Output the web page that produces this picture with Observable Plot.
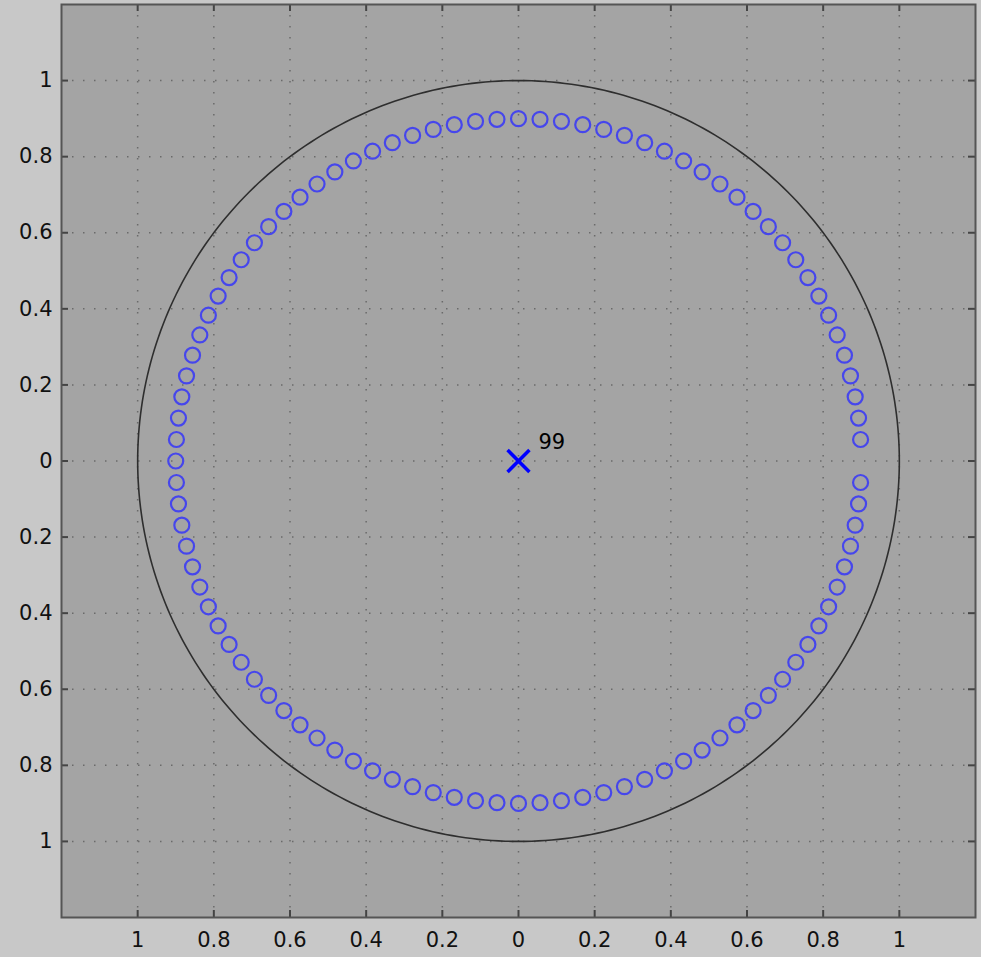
<!DOCTYPE html>
<html>
<head>
<meta charset="utf-8">
<script src="https://cdn.jsdelivr.net/npm/d3@7"></script>
<script src="https://cdn.jsdelivr.net/npm/@observablehq/plot@0.6"></script>
<style>
  html, body { margin: 0; padding: 0; background: #c8c8c8; }
  #chart svg { display: block; background: transparent; }
</style>
</head>
<body>
<div id="chart"></div>
<script>
// Zeros (circles): radius and angles in degrees
const zeroRadius = 0.9;
const zeroAngles = [3.6,7.2,10.8,14.4,18,21.6,25.2,28.8,32.4,36,39.6,43.2,46.8,50.4,54,57.6,61.2,64.8,68.4,72,75.6,79.2,82.8,86.4,90,93.6,97.2,100.8,104.4,108,111.6,115.2,118.8,122.4,126,129.6,133.2,136.8,140.4,144,147.6,151.2,154.8,158.4,162,165.6,169.2,172.8,176.4,180,183.6,187.2,190.8,194.4,198,201.6,205.2,208.8,212.4,216,219.6,223.2,226.8,230.4,234,237.6,241.2,244.8,248.4,252,255.6,259.2,262.8,266.4,270,273.6,277.2,280.8,284.4,288,291.6,295.2,298.8,302.4,306,309.6,313.2,316.8,320.4,324,327.6,331.2,334.8,338.4,342,345.6,349.2,352.8,356.4];
// Pole (cross) and its multiplicity label
const poles = [{re: 0, im: 0, label: "99"}];
// Axis ticks
const xTicks = [-1, -0.8, -0.6, -0.4, -0.2, 0, 0.2, 0.4, 0.6, 0.8, 1];
const yTicks = [-1, -0.8, -0.6, -0.4, -0.2, 0, 0.2, 0.4, 0.6, 0.8, 1];
const xDomain = [-1.2, 1.2];
const yDomain = [-1.2, 1.2];

const zeros = zeroAngles.map(a => ({
  re: zeroRadius * Math.cos(a * Math.PI / 180),
  im: zeroRadius * Math.sin(a * Math.PI / 180)
}));
// unit circle reference geometry
const unitCircle = d3.range(0, 361, 1).map(a => ({
  re: Math.cos(a * Math.PI / 180), im: Math.sin(a * Math.PI / 180)
}));

const W = 981, H = 957;
const mL = 61, mR = 6, mT = 4, mB = 40;
const innerH = H - mT - mB, innerW = W - mL - mR;
const fmt = d => String(Math.abs(d));
const font = "'DejaVu Sans', sans-serif";

const chart = Plot.plot({
  width: W, height: H,
  marginLeft: mL, marginRight: mR, marginTop: mT, marginBottom: mB,
  style: {fontFamily: font, fontSize: "21px", color: "#111", background: "transparent"},
  x: {domain: xDomain},
  y: {domain: yDomain},
  marks: [
    Plot.frame({fill: "#a4a4a4", stroke: "none"}),
    Plot.gridX(xTicks, {stroke: "#6a6a6a", strokeOpacity: 1, strokeWidth: 1.5, strokeDasharray: "1.5 9.5"}),
    Plot.gridY(yTicks, {stroke: "#6a6a6a", strokeOpacity: 1, strokeWidth: 1.5, strokeDasharray: "1.5 9.5"}),
    // inward ticks on all four sides
    Plot.tickX(xTicks, {x: d => d, insetTop: innerH - 7, stroke: "#444", strokeWidth: 2}),
    Plot.tickX(xTicks, {x: d => d, insetBottom: innerH - 7, stroke: "#444", strokeWidth: 2}),
    Plot.tickY(yTicks, {y: d => d, insetRight: innerW - 7, stroke: "#444", strokeWidth: 2}),
    Plot.tickY(yTicks, {y: d => d, insetLeft: innerW - 7, stroke: "#444", strokeWidth: 2}),
    Plot.axisX(xTicks, {tickSize: 0, tickPadding: 15, tickFormat: fmt, fontSize: 21, fill: "#111", label: null}),
    Plot.axisY(yTicks, {tickSize: 0, tickPadding: 9, tickFormat: fmt, fontSize: 21, fill: "#111", label: null}),
    Plot.line(unitCircle, {x: "re", y: "im", stroke: "#2e2e2e", strokeWidth: 1.6}),
    Plot.dot(zeros, {x: "re", y: "im", r: 7.5, stroke: "#4646ec", strokeWidth: 2.2, fill: "none"}),
    Plot.dot(poles, {x: "re", y: "im", symbol: "times", r: 10, stroke: "#0000ff", strokeWidth: 3.5}),
    Plot.text(poles, {x: "re", y: "im", text: "label", dx: 20, dy: -19, textAnchor: "start", fontSize: 21, fill: "#000"}),
    Plot.frame({stroke: "#555", strokeWidth: 2})
  ]
});
document.getElementById("chart").appendChild(chart);
</script>
</body>
</html>
